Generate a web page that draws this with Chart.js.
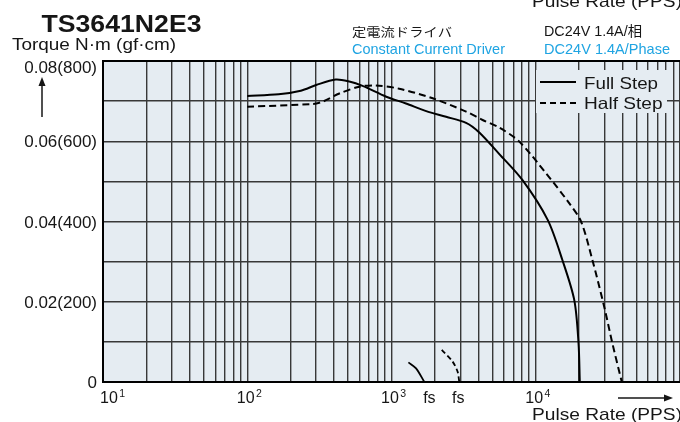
<!DOCTYPE html>
<html>
<head>
<meta charset="utf-8">
<script src="https://cdn.jsdelivr.net/npm/chart.js@4.4.1/dist/chart.umd.min.js"></script>
<style>
  html, body { margin: 0; padding: 0; background: #fff; }
  #wrap { width: 680px; height: 422px; }
</style>
</head>
<body>
<div id="wrap"><canvas id="torqueChart" width="680" height="422"></canvas></div>
<script>
// pull-out torque, N·m, against pulse rate (pps)
const fullStepPps = [100, 165, 235, 300, 410, 510, 630, 920, 1260, 1740, 2390, 3290, 4060, 5590, 8100, 12100, 15300, 18500, 19800, 20200];
const fullStepTorque = [0.0713, 0.0717, 0.0726, 0.0740, 0.0754, 0.0749, 0.0738, 0.0711, 0.0694, 0.0675, 0.0661, 0.0646, 0.0622, 0.0568, 0.0503, 0.0404, 0.0304, 0.0204, 0.0096, 0];

const halfStepPps = [100, 285, 335, 435, 600, 780, 1130, 1930, 3290, 4280, 5590, 7690, 11800, 17100, 20600, 24700, 29800, 34000, 39500];
const halfStepTorque = [0.0686, 0.0693, 0.0699, 0.0719, 0.0736, 0.0739, 0.0731, 0.0707, 0.0674, 0.0653, 0.0634, 0.0599, 0.0520, 0.0445, 0.0400, 0.0304, 0.0188, 0.0096, 0];

// pull-in (fs) tails near the bottom
const fullFsPps = [1310, 1480, 1690];
const fullFsTorque = [0.0049, 0.0034, 0];
const halfFsPps = [2230, 2650, 2870, 2950];
const halfFsTorque = [0.0080, 0.0051, 0.0026, 0];

// axes
const decadeExps = [1, 2, 3, 4];
const yLabelValues = [0.08, 0.06, 0.04, 0.02, 0];
const yLabelTexts = ['0.08(800)', '0.06(600)', '0.04(400)', '0.02(200)', '0'];
const fsLabelPps = [1830, 2900];

const INK = '#161616';
const BLUE = '#1fa4e2';
const PLOT_BG = '#e5ecf2';
const GRID = '#383838';

const gridPps = [];
decadeExps.forEach(e => {
    for (let m = 1; m <= 9; m++) gridPps.push(m * Math.pow(10, e));
});
gridPps.push(Math.pow(10, decadeExps[decadeExps.length - 1] + 1));

const toPoints = (xs, ys) => xs.map((x, i) => ({ x: x, y: ys[i] }));

function putText(ctx, str, x, y, font, opts) {
    opts = opts || {};
    ctx.save();
    ctx.font = font;
    ctx.fillStyle = opts.color || INK;
    ctx.textBaseline = opts.baseline || 'alphabetic';
    ctx.textAlign = 'left';
    const w = ctx.measureText(str).width;
    const sx = opts.width ? opts.width / w : 1;
    let left = x;
    if (opts.align === 'right') left = x - w * sx;
    else if (opts.align === 'center') left = x - w * sx / 2;
    ctx.translate(left, y);
    ctx.scale(sx, 1);
    ctx.fillText(str, 0, 0);
    ctx.restore();
}

function arrow(ctx, x1, y1, x2, y2) {
    const ang = Math.atan2(y2 - y1, x2 - x1);
    const len = 9, half = 3.5;
    ctx.save();
    ctx.strokeStyle = INK;
    ctx.fillStyle = INK;
    ctx.lineWidth = 1.5;
    ctx.beginPath();
    ctx.moveTo(x1, y1);
    ctx.lineTo(x2 - Math.cos(ang) * len, y2 - Math.sin(ang) * len);
    ctx.stroke();
    ctx.beginPath();
    ctx.moveTo(x2, y2);
    ctx.lineTo(x2 - Math.cos(ang) * len - Math.sin(ang) * half, y2 - Math.sin(ang) * len + Math.cos(ang) * half);
    ctx.lineTo(x2 - Math.cos(ang) * len + Math.sin(ang) * half, y2 - Math.sin(ang) * len - Math.cos(ang) * half);
    ctx.closePath();
    ctx.fill();
    ctx.restore();
}

const decorations = {
    id: 'decorations',
    beforeDraw(chart) {
        const { ctx, chartArea: a } = chart;
        ctx.save();
        ctx.fillStyle = '#fff';
        ctx.fillRect(0, 0, chart.width, chart.height);
        ctx.fillStyle = PLOT_BG;
        ctx.fillRect(a.left, a.top, a.right - a.left, a.bottom - a.top);
        ctx.restore();
    },
    beforeDatasetsDraw(chart) {
        // legend box sits over the grid
        const { ctx } = chart;
        ctx.save();
        ctx.fillStyle = PLOT_BG;
        ctx.fillRect(536, 70, 131, 43);
        ctx.strokeStyle = '#000';
        ctx.lineWidth = 2;
        ctx.beginPath();
        ctx.moveTo(540, 82);
        ctx.lineTo(576, 82);
        ctx.stroke();
        ctx.setLineDash([6, 4]);
        ctx.beginPath();
        ctx.moveTo(540, 103);
        ctx.lineTo(576, 103);
        ctx.stroke();
        ctx.restore();
        putText(ctx, 'Full Step', 584, 88.5, '16.5px "Liberation Sans", Arial, sans-serif', { width: 74 });
        putText(ctx, 'Half Step', 584, 108.5, '16.5px "Liberation Sans", Arial, sans-serif', { width: 78.5 });
    },
    afterDraw(chart) {
        const { ctx, chartArea: a, scales } = chart;
        const xs = scales.x, ys = scales.y;

        // frame (left, top, bottom)
        ctx.save();
        ctx.strokeStyle = '#000';
        ctx.lineWidth = 2;
        ctx.beginPath();
        ctx.moveTo(a.right, a.top);
        ctx.lineTo(a.left, a.top);
        ctx.lineTo(a.left, a.bottom);
        ctx.lineTo(a.right, a.bottom);
        ctx.stroke();
        ctx.restore();

        const sans = '"Liberation Sans", Arial, sans-serif';

        // titles
        putText(ctx, 'TS3641N2E3', 41.5, 32, 'bold 23px ' + sans, { width: 160 });
        putText(ctx, 'Torque N\u00b7m (gf\u00b7cm)', 12, 50, '17px ' + sans, { width: 164 });
        putText(ctx, 'Pulse Rate (PPS)', 532, 6.5, '17px ' + sans, { width: 150 });

        putText(ctx, '定電流ドライバ', 352, 32.5, '12.5px "Noto Sans CJK JP", sans-serif', { baseline: 'middle', width: 100 });
        putText(ctx, 'Constant Current Driver', 352, 54, '14.5px ' + sans, { color: BLUE, width: 153 });
        putText(ctx, 'DC24V 1.4A/相', 544, 32.5, '14px ' + sans + ', "Noto Sans CJK JP"', { baseline: 'middle', width: 98 });
        putText(ctx, 'DC24V 1.4A/Phase', 544, 54, '14.5px ' + sans, { color: BLUE, width: 126 });

        // y labels
        yLabelValues.forEach((v, i) => {
            let y = ys.getPixelForValue(v) + 6;
            y = Math.max(y, a.top + 12);
            putText(ctx, yLabelTexts[i], 97, y, '17px ' + sans, { align: 'right' });
        });
        arrow(ctx, 42, 117, 42, 77);

        // x labels: 10^n
        decadeExps.forEach(e => {
            const px = xs.getPixelForValue(Math.pow(10, e));
            const left = Math.max(px - 10.5, a.left - 3);
            ctx.save();
            ctx.font = '16px ' + sans;
            ctx.fillStyle = INK;
            ctx.textBaseline = 'alphabetic';
            ctx.fillText('10', left, 402.5);
            const w = ctx.measureText('10').width;
            ctx.font = '10.5px ' + sans;
            ctx.fillText(String(e), left + w + 1.5, 396.5);
            ctx.restore();
        });
        fsLabelPps.forEach(v => {
            putText(ctx, 'fs', xs.getPixelForValue(v), 402.5, '16px ' + sans, { align: 'center' });
        });

        arrow(ctx, 618, 398, 673, 398);
        putText(ctx, 'Pulse Rate (PPS)', 532, 420, '17px ' + sans, { width: 150 });
    }
};

const lineStyle = {
    borderColor: '#000',
    borderWidth: 2,
    pointRadius: 0,
    fill: false,
    tension: 0.3
};

new Chart(document.getElementById('torqueChart'), {
    type: 'line',
    data: {
        datasets: [
            Object.assign({ label: 'Full Step', data: toPoints(fullStepPps, fullStepTorque) }, lineStyle),
            Object.assign({ label: 'Half Step', data: toPoints(halfStepPps, halfStepTorque), borderDash: [7, 4] }, lineStyle),
            Object.assign({ label: 'fs full', data: toPoints(fullFsPps, fullFsTorque) }, lineStyle, { borderWidth: 1.8 }),
            Object.assign({ label: 'fs half', data: toPoints(halfFsPps, halfFsTorque) }, lineStyle, { borderWidth: 1.8, borderDash: [5, 3] })
        ]
    },
    options: {
        responsive: false,
        animation: false,
        devicePixelRatio: 1,
        events: [],
        layout: { padding: { top: 61, right: 0, bottom: 0, left: 0 } },
        plugins: {
            legend: { display: false },
            tooltip: { enabled: false },
            title: { display: false }
        },
        scales: {
            x: {
                type: 'logarithmic',
                min: 10,
                max: 100000,
                ticks: { display: false },
                border: { display: false },
                grid: { color: GRID, lineWidth: 1.4, drawTicks: false },
                afterBuildTicks: s => { s.ticks = gridPps.map(v => ({ value: v })); },
                afterFit: s => { s.height = 40; }
            },
            y: {
                type: 'linear',
                min: 0,
                max: 0.08,
                ticks: { display: false, stepSize: 0.01 },
                border: { display: false },
                grid: { color: GRID, lineWidth: 1.4, drawTicks: false },
                afterFit: s => { s.width = 103; }
            }
        }
    },
    plugins: [decorations]
});
</script>
</body>
</html>
